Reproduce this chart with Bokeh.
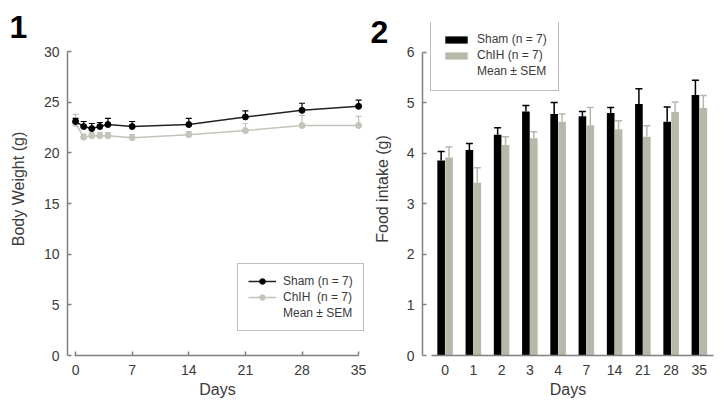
from bokeh.plotting import figure
from bokeh.models import (Range1d, FixedTicker, Whisker, TeeHead, Legend, LegendItem,
                          Title, ColumnDataSource)
from bokeh.layouts import row
from bokeh.transform import dodge
from bokeh.embed import file_html
from bokeh.resources import INLINE

# ---------------- data ----------------
days = [0, 1, 2, 3, 4, 7, 14, 21, 28, 35]
bw_sham = [23.1, 22.6, 22.4, 22.6, 22.8, 22.6, 22.8, 23.55, 24.2, 24.6]
bw_sham_sem = [0.3, 0.5, 0.5, 0.4, 0.6, 0.5, 0.6, 0.6, 0.7, 0.6]
bw_chih = [22.9, 21.55, 21.7, 21.7, 21.7, 21.5, 21.8, 22.2, 22.7, 22.7]
bw_chih_sem = [0.9, 0.3, 0.3, 0.3, 0.3, 0.3, 0.3, 0.7, 1.0, 0.9]
bw_yticks = [0, 5, 10, 15, 20, 25, 30]

food_days = ["0", "1", "2", "3", "4", "7", "14", "21", "28", "35"]
food_sham = [3.86, 4.07, 4.37, 4.83, 4.78, 4.74, 4.80, 4.98, 4.63, 5.16]
food_sham_sem = [0.18, 0.13, 0.14, 0.12, 0.23, 0.09, 0.11, 0.30, 0.29, 0.29]
food_chih = [3.92, 3.42, 4.17, 4.30, 4.63, 4.56, 4.48, 4.33, 4.82, 4.90]
food_chih_sem = [0.21, 0.30, 0.16, 0.13, 0.15, 0.35, 0.17, 0.22, 0.20, 0.25]
food_yticks = [0, 1, 2, 3, 4, 5, 6]

FONT = "Liberation Sans"
AXIS_COL = "#808080"
TEXT_COL = "#3a3a3a"
SHAM_COL = "#000000"
CHIH_LINE = "#c3c5ba"
CHIH_BAR = "#b6b8aa"


def style(p):
    p.outline_line_color = None
    p.grid.grid_line_color = None
    for ax in p.axis:
        ax.axis_line_color = AXIS_COL
        ax.axis_line_width = 1.5
        ax.major_tick_line_color = AXIS_COL
        ax.major_tick_line_width = 1.5
        ax.major_tick_in = 4
        ax.major_tick_out = 0
        ax.minor_tick_line_color = None
        ax.major_label_text_font = FONT
        ax.major_label_text_font_size = "14px"
        ax.major_label_text_color = TEXT_COL
        ax.axis_label_text_font = FONT
        ax.axis_label_text_font_size = "16px"
        ax.axis_label_text_font_style = "normal"
        ax.axis_label_text_color = TEXT_COL
    p.xaxis.major_label_standoff = 9
    p.xaxis.axis_label_standoff = 3
    p.yaxis.major_label_standoff = 8


def legend_style(lg):
    lg.border_line_color = AXIS_COL
    lg.border_line_width = 1.2
    lg.background_fill_color = "white"
    lg.background_fill_alpha = 1
    lg.label_text_font = FONT
    lg.label_text_font_size = "12px"
    lg.label_text_color = TEXT_COL
    lg.margin = 0
    lg.glyph_width = 28


def panel_number(p, text, offset, standoff):
    p.add_layout(Title(text=text, align="left", vertical_align="bottom", offset=offset,
                       standoff=standoff, text_font=FONT, text_font_size="32px",
                       text_font_style="bold", text_color="black"), "above")


# ---------------- panel 1: body weight ----------------
p1 = figure(width=370, height=400, x_range=Range1d(-1, 36.1), y_range=Range1d(0, 32.87),
            output_backend="svg", toolbar_location=None,
            min_border_left=67, min_border_right=3, min_border_top=22, min_border_bottom=45)
style(p1)
p1.xaxis.ticker = FixedTicker(ticks=[0, 7, 14, 21, 28, 35])
p1.yaxis.ticker = FixedTicker(ticks=bw_yticks)
p1.xaxis.bounds = (-0.1, 35)
p1.yaxis.bounds = (0, 30)
p1.xaxis.axis_label = "Days"
p1.yaxis.axis_label = "Body Weight (g)"
p1.yaxis.axis_label_standoff = 14

s_sham = ColumnDataSource(dict(x=days, y=bw_sham,
                               top=[v + s for v, s in zip(bw_sham, bw_sham_sem)]))
s_chih = ColumnDataSource(dict(x=days, y=bw_chih,
                               top=[v + s for v, s in zip(bw_chih, bw_chih_sem)]))

for src, col in ((s_chih, CHIH_LINE), (s_sham, SHAM_COL)):
    p1.add_layout(Whisker(source=src, base="x", lower="y", upper="top",
                          line_color=col, line_width=1.2, lower_head=None,
                          upper_head=TeeHead(size=6, line_color=col, line_width=1.2)))

l_chih = p1.line("x", "y", source=s_chih, line_color=CHIH_LINE, line_width=1.5)
m_chih = p1.scatter("x", "y", source=s_chih, size=6, fill_color=CHIH_LINE, line_color=CHIH_LINE)
l_sham = p1.line("x", "y", source=s_sham, line_color="#222222", line_width=1.5)
m_sham = p1.scatter("x", "y", source=s_sham, size=6, fill_color=SHAM_COL, line_color=SHAM_COL)
dummy1 = p1.scatter(x=[], y=[], alpha=0)

lg1 = Legend(items=[LegendItem(label="Sham (n = 7)", renderers=[l_sham, m_sham]),
                    LegendItem(label="ChIH  (n = 7)", renderers=[l_chih, m_chih]),
                    LegendItem(label="Mean ± SEM", renderers=[dummy1])],
             location=(170, 24))
legend_style(lg1)
lg1.padding = 10
lg1.spacing = 2
lg1.glyph_height = 14
lg1.label_height = 14
lg1.label_standoff = 7
p1.add_layout(lg1, "center")
panel_number(p1, "1", -58, -30)

# ---------------- panel 2: food intake ----------------
idx = list(range(len(food_days)))
p2 = figure(width=355, height=400, x_range=Range1d(-0.80, 9.50), y_range=Range1d(0, 6.594),
            output_backend="svg", toolbar_location=None,
            min_border_left=51, min_border_right=12, min_border_top=22, min_border_bottom=45)
style(p2)
p2.xaxis.ticker = FixedTicker(ticks=idx)
p2.xaxis.major_label_overrides = {i: d for i, d in zip(idx, food_days)}
p2.yaxis.ticker = FixedTicker(ticks=food_yticks)
p2.xaxis.bounds = (-0.48, 9.50)
p2.yaxis.bounds = (0, 6)
p2.xaxis.major_tick_in = 0
p2.xaxis.axis_label = "Days"
p2.yaxis.axis_label = "Food intake (g)"
p2.yaxis.axis_label_standoff = 13

f_sham = ColumnDataSource(dict(x=idx, y=food_sham,
                               top=[v + s for v, s in zip(food_sham, food_sham_sem)]))
f_chih = ColumnDataSource(dict(x=idx, y=food_chih,
                               top=[v + s for v, s in zip(food_chih, food_chih_sem)]))

b_sham = p2.vbar(x=dodge("x", -0.14), top="y", width=0.27, source=f_sham,
                 fill_color=SHAM_COL, line_color=None)
b_chih = p2.vbar(x=dodge("x", 0.14), top="y", width=0.27, source=f_chih,
                 fill_color=CHIH_BAR, line_color=None)
for src, off, col in ((f_sham, -0.14, SHAM_COL), (f_chih, 0.14, CHIH_BAR)):
    p2.add_layout(Whisker(source=src, base=dodge("x", off), lower="y", upper="top",
                          line_color=col, line_width=1.5, lower_head=None, level="overlay",
                          upper_head=TeeHead(size=7, line_color=col, line_width=1.5)))
dummy2 = p2.scatter(x=[], y=[], alpha=0)

lg2 = Legend(items=[LegendItem(label="Sham (n = 7)", renderers=[b_sham]),
                    LegendItem(label="ChIH (n = 7)", renderers=[b_chih]),
                    LegendItem(label="Mean ± SEM", renderers=[dummy2])],
             location=(8, 264))
legend_style(lg2)
lg2.padding = 11
lg2.spacing = 0
lg2.glyph_height = 9
lg2.label_height = 16
lg2.label_standoff = 7
p2.add_layout(lg2, "center")
panel_number(p2, "2", -52, -40)

layout = row(p1, p2)
open("out.html", "w").write(file_html(layout, INLINE))
